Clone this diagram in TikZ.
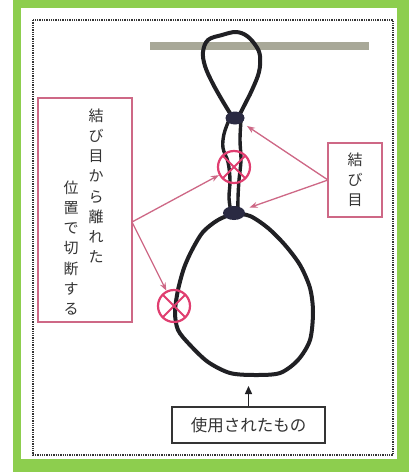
\documentclass[tikz,border=0pt]{standalone}
\usepackage{fontspec}
\newfontfamily\jpfont{Noto Sans CJK JP}
\usetikzlibrary{arrows.meta, shapes.geometric}

\definecolor{framegreen}{RGB}{141,206,78}
\definecolor{cutpink}{RGB}{224,62,112}
\definecolor{notepink}{RGB}{206,104,134}
\definecolor{barolive}{RGB}{168,168,152}
\definecolor{ropeblack}{RGB}{32,32,36}
\definecolor{knotnavy}{RGB}{42,42,66}
\definecolor{inkgray}{RGB}{52,52,52}

\tikzset{
  rope/.style={line width=4, ropeblack, line join=round, line cap=round},
  knot/.style={ellipse, fill=knotnavy, inner sep=0, minimum width=19, minimum height=13},
  cutmark/.style={circle, draw=cutpink, line width=2.2, inner sep=0, minimum size=32,
    path picture={
      \draw[cutpink, line width=2]
        (path picture bounding box.north west) -- (path picture bounding box.south east)
        (path picture bounding box.north east) -- (path picture bounding box.south west);
    }},
  notebox/.style={draw=notepink, line width=1.1, fill=white, inner sep=0},
  tatebun/.style={align=center, text=inkgray, inner sep=0,
    font=\fontsize{15}{20.2}\selectfont\jpfont},
  pinkarrow/.style={-{Stealth[length=8, width=6]}, notepink, line width=1.3},
}

\begin{document}
\begin{tikzpicture}[x=1pt, y=-1pt]
  \useasboundingbox (0,0) rectangle (409,472);

  % Green frame
  \fill[framegreen] (13,0) rectangle (409,472);
  \fill[white] (21,8) rectangle (397,459);

  % Dotted border
  \draw[inkgray, densely dotted, line width=1.3] (33,20) rectangle (393,455);

  % Bar
  \fill[barolive] (150,42) rectangle (369,50);

  % Upper loop over the bar
  \draw[rope] plot[smooth, tension=0.6] coordinates {
    (233,118) (222,100) (212,82) (205,66) (203,52) (208,40) (222,35) (236,32)
    (247,36) (256,46) (260,56) (259,72) (252,90) (244,106) (238,118)};

  % Two strands between the knots
  \draw[rope, line width=3.4] plot[smooth, tension=0.6] coordinates {
    (229,120) (224,134) (223,148) (228,162) (230,180) (229,198) (231,212)};
  \draw[rope, line width=3.4] plot[smooth, tension=0.6] coordinates {
    (241,120) (240,140) (241,160) (239,180) (238,198) (238,212)};

  % Lower loop
  \draw[rope] plot[smooth cycle, tension=0.5] coordinates {
    (234,214) (218,220) (203,232) (192,250) (184,268) (178,290) (175,312)
    (178,330) (190,345) (208,362) (230,373) (255,375) (280,373) (298,360)
    (310,340) (313,312) (310,288) (300,265) (285,245) (268,228) (250,216)};

  % Knots
  \node[knot] (knotU) at (235,118) {};
  \node[knot, minimum width=22, minimum height=14] (knotL) at (234,213) {};

  % Cutting points
  \node[cutmark] (cutU) at (234,167) {};
  \node[cutmark] (cutL) at (174,306) {};

  % Note: where to cut
  \node[notebox, minimum width=94, minimum height=224] (cutBox) at (85,210) {};
  \node[tatebun] (cutTextA) at (96,186) {結\\び\\目\\か\\ら\\離\\れ\\た};
  \node[tatebun] (cutTextB) at (71,248) {位\\置\\で\\切\\断\\す\\る};
  \coordinate (cutFork) at (132,222);
  \draw[pinkarrow] (cutFork) -- (cutU);
  \draw[pinkarrow] (cutFork) -- (cutL);

  % Note: knots
  \node[notebox, tatebun, minimum width=54, minimum height=74] (knotBox) at (355,180)
    {結\\び\\目};
  \coordinate (knotFork) at (328,180);
  \draw[pinkarrow, shorten >=6] (knotFork) -- (knotU);
  \draw[pinkarrow, shorten >=6] (knotFork) -- (knotL);

  % Label for the used rope
  \node[draw=inkgray, line width=1.1, minimum width=153, minimum height=36,
    text=inkgray, font=\fontsize{16.5}{18}\selectfont\jpfont] (usedBox) at (248.5,425)
    {使用されたもの};
  \coordinate (loopBottom) at (248.5,386);
  \draw[-{Triangle[length=8, width=7]}, ropeblack, line width=1.4] (usedBox) -- (loopBottom);

\end{tikzpicture}
\end{document}
